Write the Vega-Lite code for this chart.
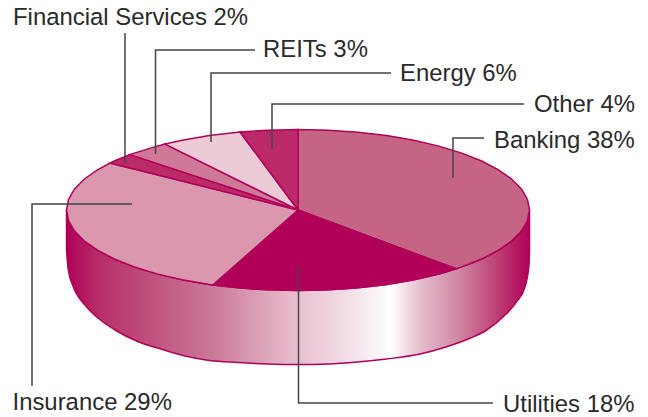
{"$schema":"https://vega.github.io/schema/vega-lite/v6.json","width":648,"height":417,"autosize":{"type":"fit","contains":"padding"},"padding":0,"background":"#ffffff","view":{"stroke":null},
"datasets":{
"wall":[{"x":66.5,"top":210,"bottom":250},{"x":68.3,"top":220,"bottom":270},{"x":73.3,"top":229.4,"bottom":286.7},{"x":85,"top":241.5,"bottom":305},{"x":98.3,"top":250.7,"bottom":318.3},{"x":115,"top":259.3,"bottom":330},{"x":138.3,"top":268.3,"bottom":341.7},{"x":161.7,"top":275.1,"bottom":349.3},{"x":185,"top":280.3,"bottom":356},{"x":209.4,"top":284.4,"bottom":360.5},{"x":238.1,"top":287.8,"bottom":362.5},{"x":267.8,"top":289.8,"bottom":364},{"x":298,"top":290.5,"bottom":364.5},{"x":328.2,"top":289.8,"bottom":364},{"x":357.9,"top":287.8,"bottom":362},{"x":386.6,"top":284.4,"bottom":359},{"x":420,"top":278.4,"bottom":354},{"x":446.7,"top":271.7,"bottom":346.7},{"x":470,"top":263.9,"bottom":338.3},{"x":486.7,"top":256.6,"bottom":330},{"x":503.3,"top":247.2,"bottom":316.7},{"x":516.7,"top":236.4,"bottom":301.7},{"x":525,"top":225.8,"bottom":286.7},{"x":529,"top":215.3,"bottom":265},{"x":529.5,"top":210,"bottom":250}],
"slices":[
{"slice":"Banking","x":298,"y":210},{"slice":"Banking","x":298,"y":129.5},{"slice":"Banking","x":328.2,"y":130.2},{"slice":"Banking","x":357.9,"y":132.2},{"slice":"Banking","x":386.6,"y":135.6},{"slice":"Banking","x":413.8,"y":140.3},{"slice":"Banking","x":438.9,"y":146.1},{"slice":"Banking","x":461.7,"y":153.1},{"slice":"Banking","x":481.7,"y":161},{"slice":"Banking","x":498.5,"y":169.8},{"slice":"Banking","x":511.9,"y":179.2},{"slice":"Banking","x":521.6,"y":189.2},{"slice":"Banking","x":527.5,"y":199.5},{"slice":"Banking","x":529.5,"y":210},{"slice":"Banking","x":527.5,"y":220.5},{"slice":"Banking","x":521.6,"y":230.8},{"slice":"Banking","x":511.9,"y":240.8},{"slice":"Banking","x":498.5,"y":250.2},{"slice":"Banking","x":481.7,"y":259},{"slice":"Banking","x":461.7,"y":266.9},{"slice":"Banking","x":456,"y":268.8},{"slice":"Banking","x":298,"y":210},
{"slice":"Utilities","x":298,"y":210},{"slice":"Utilities","x":456,"y":268.8},{"slice":"Utilities","x":438.9,"y":273.9},{"slice":"Utilities","x":413.8,"y":279.7},{"slice":"Utilities","x":386.6,"y":284.4},{"slice":"Utilities","x":357.9,"y":287.8},{"slice":"Utilities","x":328.2,"y":289.8},{"slice":"Utilities","x":298,"y":290.5},{"slice":"Utilities","x":267.8,"y":289.8},{"slice":"Utilities","x":238.1,"y":287.8},{"slice":"Utilities","x":213,"y":284.9},{"slice":"Utilities","x":298,"y":210},
{"slice":"Insurance","x":298,"y":210},{"slice":"Insurance","x":213,"y":284.9},{"slice":"Insurance","x":209.4,"y":284.4},{"slice":"Insurance","x":182.2,"y":279.7},{"slice":"Insurance","x":157.1,"y":273.9},{"slice":"Insurance","x":134.3,"y":266.9},{"slice":"Insurance","x":114.3,"y":259},{"slice":"Insurance","x":97.5,"y":250.2},{"slice":"Insurance","x":84.1,"y":240.8},{"slice":"Insurance","x":74.4,"y":230.8},{"slice":"Insurance","x":68.5,"y":220.5},{"slice":"Insurance","x":66.5,"y":210},{"slice":"Insurance","x":68.5,"y":199.5},{"slice":"Insurance","x":74.4,"y":189.2},{"slice":"Insurance","x":84.1,"y":179.2},{"slice":"Insurance","x":97.5,"y":169.8},{"slice":"Insurance","x":110,"y":163},{"slice":"Insurance","x":298,"y":210},
{"slice":"Financial Services","x":298,"y":210},{"slice":"Financial Services","x":110,"y":163},{"slice":"Financial Services","x":114.3,"y":161},{"slice":"Financial Services","x":130,"y":154.6},{"slice":"Financial Services","x":298,"y":210},
{"slice":"REITs","x":298,"y":210},{"slice":"REITs","x":130,"y":154.6},{"slice":"REITs","x":134.3,"y":153.1},{"slice":"REITs","x":157.1,"y":146.1},{"slice":"REITs","x":165,"y":144.1},{"slice":"REITs","x":298,"y":210},
{"slice":"Energy","x":298,"y":210},{"slice":"Energy","x":165,"y":144.1},{"slice":"Energy","x":182.2,"y":140.3},{"slice":"Energy","x":209.4,"y":135.6},{"slice":"Energy","x":240,"y":132},{"slice":"Energy","x":298,"y":210},
{"slice":"Other","x":298,"y":210},{"slice":"Other","x":240,"y":132},{"slice":"Other","x":267.8,"y":130.2},{"slice":"Other","x":298,"y":129.5},{"slice":"Other","x":298,"y":210}],
"leaders":[
{"leader":"Financial Services","x":125,"y":33},{"leader":"Financial Services","x":125,"y":163},
{"leader":"REITs","x":255,"y":50},{"leader":"REITs","x":155.5,"y":50},{"leader":"REITs","x":155.5,"y":154},
{"leader":"Energy","x":391,"y":73},{"leader":"Energy","x":211,"y":73},{"leader":"Energy","x":211,"y":142},
{"leader":"Other","x":524,"y":104},{"leader":"Other","x":272,"y":104},{"leader":"Other","x":272,"y":149},
{"leader":"Banking","x":484,"y":138},{"leader":"Banking","x":453,"y":138},{"leader":"Banking","x":453,"y":178},
{"leader":"Insurance","x":132,"y":204},{"leader":"Insurance","x":32,"y":204},{"leader":"Insurance","x":32,"y":386},
{"leader":"Utilities","x":298.5,"y":266},{"leader":"Utilities","x":298.5,"y":403},{"leader":"Utilities","x":493,"y":403}],
"labels":[
{"label":"Financial Services 2%","slice":"Financial Services","share":2,"x":13,"y":24.5},
{"label":"REITs 3%","slice":"REITs","share":3,"x":263,"y":57},
{"label":"Energy 6%","slice":"Energy","share":6,"x":400,"y":81},
{"label":"Other 4%","slice":"Other","share":4,"x":534,"y":112},
{"label":"Banking 38%","slice":"Banking","share":38,"x":494,"y":148},
{"label":"Insurance 29%","slice":"Insurance","share":29,"x":12.5,"y":410},
{"label":"Utilities 18%","slice":"Utilities","share":18,"x":503,"y":412}]
},
"layer":[
{"data":{"name":"wall"},"mark":{"type":"area","interpolate":"monotone","stroke":"#b00058","strokeWidth":1.5,"fill":{"gradient":"linear","x1":0,"y1":0,"x2":1,"y2":0,"stops":[{"offset":0,"color":"#b00058"},{"offset":0.073,"color":"#b83068"},{"offset":0.22,"color":"#c25d84"},{"offset":0.32,"color":"#cc7a9b"},{"offset":0.435,"color":"#dea8bc"},{"offset":0.5,"color":"#e8c0cf"},{"offset":0.62,"color":"#f4e2ea"},{"offset":0.7,"color":"#ffffff"},{"offset":0.77,"color":"#e3b8c8"},{"offset":0.845,"color":"#d088a5"},{"offset":0.92,"color":"#bf4878"},{"offset":1,"color":"#b00058"}]}},
"encoding":{"x":{"field":"x","type":"quantitative","scale":{"domain":[0,648],"nice":false,"zero":false},"axis":null},"y":{"field":"bottom","type":"quantitative","scale":{"domain":[417,0],"nice":false,"zero":false},"axis":null},"y2":{"field":"top"}}},
{"data":{"name":"slices"},"mark":{"type":"line","stroke":"#b00058","strokeWidth":1.5,"strokeJoin":"miter"},
"encoding":{"x":{"field":"x","type":"quantitative","axis":null},"y":{"field":"y","type":"quantitative","axis":null},"order":{"value":null},"detail":{"field":"slice"},"fill":{"field":"slice","type":"nominal","legend":null,"scale":{"domain":["Banking","Utilities","Insurance","Financial Services","REITs","Energy","Other"],"range":["#c56485","#b00058","#d998ae","#bc2a68","#cf7898","#eccad6","#bb2a68"]}}}},
{"data":{"name":"leaders"},"mark":{"type":"line","stroke":"#444444","strokeWidth":1.5,"strokeJoin":"miter"},
"encoding":{"x":{"field":"x","type":"quantitative","axis":null},"y":{"field":"y","type":"quantitative","axis":null},"order":{"value":null},"detail":{"field":"leader"}}},
{"data":{"name":"labels"},"mark":{"type":"text","align":"left","baseline":"alphabetic","font":"Liberation Sans","fontSize":23.9,"fill":"#2a2a2a"},
"encoding":{"x":{"field":"x","type":"quantitative","axis":null},"y":{"field":"y","type":"quantitative","axis":null},"text":{"field":"label"}}}
]}
